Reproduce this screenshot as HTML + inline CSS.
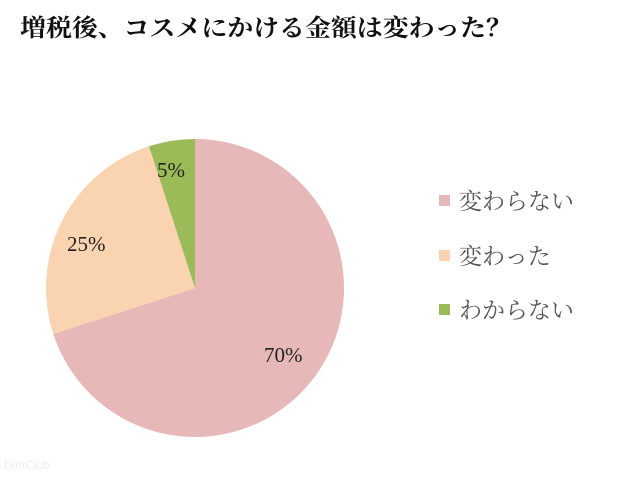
<!DOCTYPE html>
<html><head><meta charset="utf-8"><style>
body{margin:0;width:640px;height:474px;background:#fff;overflow:hidden}
</style></head><body>
<svg width="640" height="474" xmlns="http://www.w3.org/2000/svg">
<text x="20" y="36" textLength="492" lengthAdjust="spacingAndGlyphs" font-family="'Liberation Serif','Noto Serif CJK SC',serif" font-weight="bold" font-size="24" fill="#111">増税後、コスメにかける金額は変わった？</text>
<path d="M195,288 L195,139 A149,149 0 1 1 53.3,334 Z" fill="#E6B9B8"/>
<path d="M195,288 L53.3,334 A149,149 0 0 1 149,146.3 Z" fill="#FAD3B0"/>
<path d="M195,288 L149,146.3 A149,149 0 0 1 195,139 Z" fill="#9BBB59"/>
<g font-family="'Liberation Serif','Noto Serif CJK SC',serif" font-size="21" fill="#222">
<text x="264" y="362">70%</text>
<text x="67" y="251">25%</text>
<text x="157" y="177">5%</text>
<rect x="439" y="195" width="11" height="11" fill="#E6B9B8"/>
<rect x="439" y="250" width="11" height="11" fill="#FAD3B0"/>
<rect x="439" y="304" width="11" height="11" fill="#9BBB59"/>
<g font-size="23" fill="#555">
<text x="459" y="209">変わらない</text>
<text x="459" y="264">変わった</text>
<text x="459" y="318">わからない</text>
</g>
</g>
<text x="4" y="469" font-family="'Liberation Sans',sans-serif" font-size="12" fill="#eee">DietClub</text>
</svg>
</body></html>
